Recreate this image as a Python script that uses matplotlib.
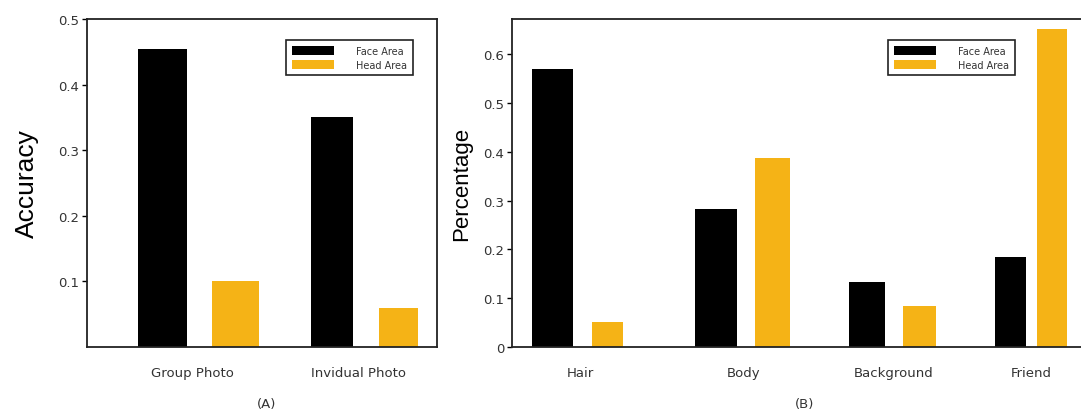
import matplotlib
matplotlib.use("Agg")
import matplotlib.pyplot as plt
from matplotlib.patches import Patch

# ---- data ----
cats_a = ["Group Photo", "Invidual Photo"]
face_a = [0.455, 0.35]
head_a = [0.10, 0.06]

cats_b = ["Hair", "Body", "Background", "Friend"]
face_b = [0.57, 0.283, 0.133, 0.184]
head_b = [0.051, 0.387, 0.084, 0.652]

series = ["Face Area", "Head Area"]
yticks_a = [0.1, 0.2, 0.3, 0.4, 0.5]
yticks_b = [0, 0.1, 0.2, 0.3, 0.4, 0.5, 0.6]
ytick_labels_b = ["0", "0.1", "0.2", "0.3", "0.4", "0.5", "0.6"]

# ---- layout / style ----
BLACK = "#000000"
YELLOW = "#F5B316"
pos_a = [0.0, 1.0]
off_a = [0.22, 0.20]
wface_a = [0.295, 0.25]
whead_a = [0.28, 0.235]

pos_b = [0.0, 1.0, 1.91, 2.75]
off_b = [0.168, 0.172, 0.16, 0.127]
wface_b = [0.255, 0.255, 0.225, 0.19]
whead_b = [0.19, 0.215, 0.205, 0.18]

fig = plt.figure(figsize=(10.81, 4.14), dpi=100)
axA = fig.add_axes([87/1081, 1-348/414, 350/1081, 328/414])
axB = fig.add_axes([512/1081, 1-348/414, 571/1081, 328/414])


def style(ax):
    for s in ax.spines.values():
        s.set_linewidth(1.3)
        s.set_color("#222222")
    ax.tick_params(axis="x", length=0, pad=14, labelsize=9.5, labelcolor="#333333")
    ax.tick_params(axis="y", length=3.5, width=1, direction="out",
                   labelsize=9.5, labelcolor="#333333", pad=2)


def legend(ax, anchor):
    handles = [Patch(facecolor=BLACK, edgecolor="none", label=series[0]),
               Patch(facecolor=YELLOW, edgecolor="none", label=series[1])]
    lg = ax.legend(handles=handles, loc="upper right", bbox_to_anchor=anchor,
                   fontsize=7, handlelength=4.3, handleheight=1.05,
                   handletextpad=2.3, borderpad=0.6, labelspacing=0.4,
                   fancybox=False, frameon=True, framealpha=1)
    lg.get_frame().set_edgecolor("#222222")
    lg.get_frame().set_linewidth(1.2)
    for t in lg.get_texts():
        t.set_color("#333333")


# Panel A
axA.bar([p - o for p, o in zip(pos_a, off_a)], face_a, width=wface_a, color=BLACK)
axA.bar([p + o for p, o in zip(pos_a, off_a)], head_a, width=whead_a, color=YELLOW)
axA.set_xlim(-0.675, 1.434)
axA.set_ylim(0, 0.5)
axA.set_xticks([p - 0.04 for p in pos_a])
axA.set_xticklabels(cats_a)
axA.set_yticks(yticks_a)
axA.set_yticklabels([f"{v:.1f}" for v in yticks_a])
style(axA)
axA.set_ylabel("Accuracy", family="Liberation Sans", fontsize=19, labelpad=14)
legend(axA, (0.946, 0.951))

# Panel B
axB.bar([p - o for p, o in zip(pos_b, off_b)], face_b, width=wface_b, color=BLACK)
axB.bar([p + o for p, o in zip(pos_b, off_b)], head_b, width=whead_b, color=YELLOW)
axB.set_xlim(-0.415, 3.067)
axB.set_ylim(0, 0.672)
axB.set_xticks(pos_b)
axB.set_xticklabels(cats_b)
axB.set_yticks(yticks_b)
axB.set_yticklabels(ytick_labels_b)
style(axB)
axB.spines["right"].set_visible(False)
axB.set_ylabel("Percentage", family="Liberation Sans", fontsize=16, labelpad=8)
legend(axB, (0.89, 0.951))

fig.text(267/1081, 1-405/414, "(A)", ha="center", va="center",
         fontsize=9.5, color="#333333")
fig.text(805/1081, 1-405/414, "(B)", ha="center", va="center",
         fontsize=9.5, color="#333333")

fig.savefig("out.png", dpi=100)
